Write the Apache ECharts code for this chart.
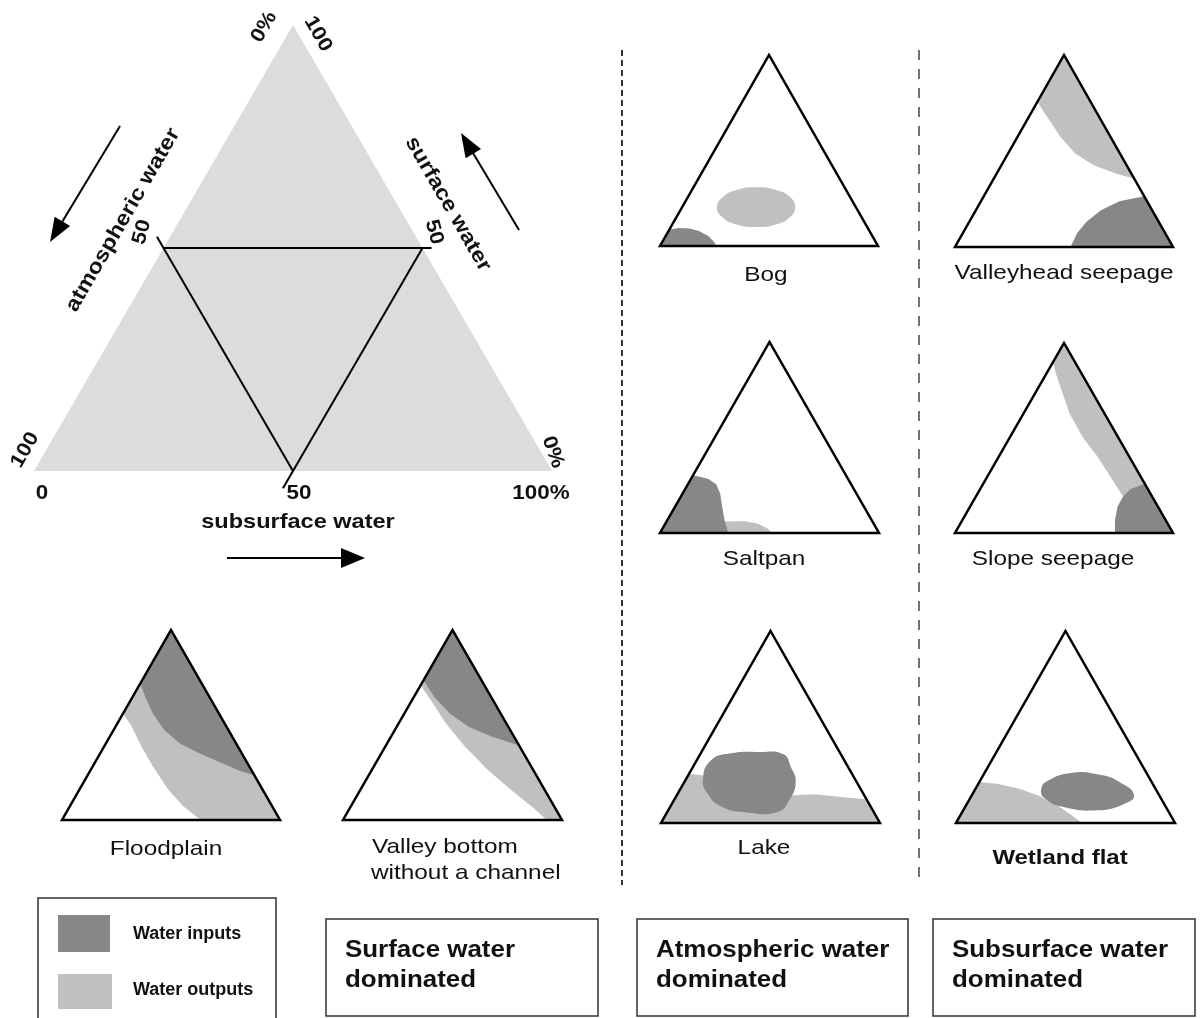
<!DOCTYPE html>
<html><head><meta charset="utf-8">
<script src="https://cdn.jsdelivr.net/npm/echarts@6/dist/echarts.min.js"></script>
<style>html,body{margin:0;padding:0;background:#fff}#c{width:1203px;height:1018px}</style>
</head><body><div id="c"></div>
<script>
// Ternary points are [subsurface %, surface %]; atmospheric % = 100 - both.
// Corners: bottom-left = 100% atmospheric, bottom-right = 100% subsurface, apex = 100% surface.
const triangleCorners = [[0,0],[100,0],[0,100]];
const midTriangle = [[0,50],[50,50],[50,0]];

const bogInputs = [[0,0],[0,8.7],[3.8,9.4],[9,9.2],[14,7.8],[19.5,5.2],[23.5,2.3],[26,0]];
const bogOutputs = [[52,20],[47,25.5],[38.5,29.3],[29,30.7],[20.6,29.3],[16,25.5],[16,20.3],[21,15.1],[29.6,11.3],[39,9.9],[47.5,11.3],[52,15.1]];

const valleyheadInputs = [[53,0],[52.4,7],[53.7,13],[57.4,19.1],[63.5,23.8],[73.6,26.4],[100,0]];
const valleyheadOutputs = [[0,100],[64.3,35.7],[59.6,36.9],[54.6,38.3],[42.3,42.6],[30.8,48.7],[19.6,57.4],[10.2,66.1],[5.5,70.4],[0,75.7]];

const saltpanInputs = [[0,0],[0,30.2],[7.7,28.4],[12.9,25.5],[17.2,20.6],[21.6,13.6],[26.2,6.6],[31.2,0]];
const saltpanOutputs = [[26,0],[26,6],[35.8,6.1],[42.3,4.9],[47.9,2.3],[51.5,0]];

const slopeInputs = [[74.1,25.9],[69,23.1],[67.5,19.2],[67.6,14],[69.9,7],[73.4,0],[100,0]];
const slopeOutputs = [[0,100],[74.1,25.9],[67.5,19.2],[57.9,28.3],[45.2,40.2],[33.1,50.7],[21.1,62.9],[9.9,76.9],[4.3,83.9],[0,90]];

const lakeInputs = [[6.5,32.7],[13.3,36.2],[26.4,37],[38,35.8],[44.7,29.2],[50.8,21.4],[52.6,11.8],[50.5,5.7],[37.1,5.4],[23.8,8.3],[13.6,15.3],[7.6,23.1]];
const lakeOutputs = [[0,0],[0,25.7],[6.2,24.9],[53,14.4],[62.8,15],[75.4,13.6],[87.6,12.4],[100,0]];

const wetlandInputs = [[30,17.9],[31.2,22.3],[39.5,26.1],[51.7,25.4],[63.9,21.4],[74.1,14.4],[71.4,9.7],[61.1,6.6],[45,8.3],[34.3,12.7]];
const wetlandOutputs = [[0,0],[0,21.4],[8.4,20.5],[19.9,17.9],[30.1,14.4],[40.9,9.7],[50.3,4.3],[57.6,0]];

const floodplainInputs = [[0,71.8],[0,100],[76.5,23.5],[69.2,25.6],[58.2,30],[45.1,35.2],[33.7,40.4],[23.2,47.4],[13.6,56.1],[5.8,64.8]];
const floodplainOutputs = [[0,56.1],[0,100],[100,0],[63.6,0],[52,7.3],[40.7,16],[27.6,28.2],[17.1,38.7],[7.5,49.1]];

const valleyBottomInputs = [[0,73.5],[0,100],[60.8,39.2],[45.9,43.9],[32.8,49.1],[20.7,56.1],[9.3,64.8]];
const valleyBottomOutputs = [[0,70.9],[0,100],[100,0],[93,0],[83.7,6.4],[68.5,16],[52.8,26.5],[36.3,38.7],[21.5,50.9],[8.5,63.1]];

const mainTickLabels = ['0', '50', '100%'];
const legendLabels = ['Water inputs', 'Water outputs'];
const groupLabels = [['Surface water', 'dominated'], ['Atmospheric water', 'dominated'], ['Subsurface water', 'dominated']];

// ---------- styles / layout ----------
const DARK = '#878787', LIGHT = '#c0c0c0', MAINFILL = '#dcdcdc';
const FONT = '"Liberation Sans", Arial, sans-serif';

function panel(frame, outputs, inputs, opts) {
  opts = opts || {};
  const items = [];
  if (outputs) items.push({ pts: outputs, fill: LIGHT, smooth: opts.smoothOut || 0 });
  if (inputs) items.push({ pts: inputs, fill: DARK, smooth: opts.smoothIn || 0 });
  items.push({ pts: triangleCorners, stroke: '#000', lw: 2.5 });
  return { frame, items };
}

const panels = [
  { frame: { left: 34, top: 25, width: 518, height: 446 },
    items: [
      { pts: triangleCorners, fill: MAINFILL },
      { seg: [midTriangle[0], midTriangle[1]], ext: [0, 9] },
      { seg: [midTriangle[0], midTriangle[2]], ext: [13, 0] },
      { seg: [midTriangle[1], midTriangle[2]], ext: [0, 20] }
    ] },
  panel({ left: 660, top: 55, width: 218, height: 191 }, bogOutputs, bogInputs, { smoothOut: 0.5 }),
  panel({ left: 955, top: 55, width: 218, height: 192 }, valleyheadOutputs, valleyheadInputs),
  panel({ left: 660, top: 342, width: 219, height: 191 }, saltpanOutputs, saltpanInputs),
  panel({ left: 955, top: 343, width: 218, height: 190 }, slopeOutputs, slopeInputs),
  panel({ left: 661, top: 631, width: 219, height: 192 }, lakeOutputs, lakeInputs, { smoothIn: 0.5 }),
  panel({ left: 956, top: 631, width: 219, height: 192 }, wetlandOutputs, wetlandInputs, { smoothIn: 0.5 }),
  panel({ left: 62, top: 630, width: 218, height: 190 }, floodplainOutputs, floodplainInputs),
  panel({ left: 343, top: 630, width: 219, height: 190 }, valleyBottomOutputs, valleyBottomInputs)
];

const toXY = p => [p[0] + p[1] / 2, p[1]];

const grid = [], xAxis = [], yAxis = [], series = [];
panels.forEach((pn, i) => {
  grid.push(Object.assign({ containLabel: false }, pn.frame));
  xAxis.push({ gridIndex: i, type: 'value', min: 0, max: 100, show: false });
  yAxis.push({ gridIndex: i, type: 'value', min: 0, max: 100, show: false });
  series.push({
    type: 'custom', xAxisIndex: i, yAxisIndex: i, silent: true, animation: false, clip: false,
    data: pn.items.map((_, k) => [k, 0]),
    renderItem: function (params, api) {
      const it = pn.items[params.dataIndex];
      if (it.seg) {
        const a = api.coord(toXY(it.seg[0])), b = api.coord(toXY(it.seg[1]));
        const dx = b[0] - a[0], dy = b[1] - a[1], L = Math.hypot(dx, dy);
        const ux = dx / L, uy = dy / L;
        return { type: 'line',
          shape: { x1: a[0] - ux * it.ext[0], y1: a[1] - uy * it.ext[0], x2: b[0] + ux * it.ext[1], y2: b[1] + uy * it.ext[1] },
          style: { stroke: '#000', lineWidth: 2 } };
      }
      const pts = it.pts.map(p => api.coord(toXY(p)));
      return { type: 'polygon', shape: { points: pts, smooth: it.smooth || 0 },
        style: it.stroke ? { fill: 'none', stroke: it.stroke, lineWidth: it.lw, lineJoin: 'miter' }
                         : { fill: it.fill, stroke: null } };
    }
  });
});

// ---------- annotations ----------
const DEG = Math.PI / 180;
function txt(text, x, y, o) {
  o = o || {};
  return { type: 'text', x, y, rotation: (o.rot || 0) * DEG, scaleX: o.sx || 1, silent: true,
    style: { text, x: 0, y: 0, fill: o.color || '#111',
      font: (o.weight || 'bold') + ' ' + (o.size || 20) + 'px ' + FONT,
      textAlign: o.align || 'center', textVerticalAlign: 'middle', verticalAlign: 'middle' } };
}
function arrow(x1, y1, x2, y2, hl, hw) {
  const dx = x2 - x1, dy = y2 - y1, L = Math.hypot(dx, dy), ux = dx / L, uy = dy / L;
  const bx = x2 - ux * hl, by = y2 - uy * hl;
  return [
    { type: 'line', silent: true, shape: { x1, y1, x2: bx, y2: by }, style: { stroke: '#000', lineWidth: 2 } },
    { type: 'polygon', silent: true, shape: { points: [[x2, y2], [bx - uy * hw, by + ux * hw], [bx + uy * hw, by - ux * hw]] }, style: { fill: '#000' } }
  ];
}

const S = 1.12, SL = 1.16;
const graphics = [
  { type: 'line', silent: true, shape: { x1: 622, y1: 50, x2: 622, y2: 885 }, style: { stroke: '#333', lineWidth: 2, lineDash: [6, 4] } },
  { type: 'line', silent: true, shape: { x1: 919, y1: 50, x2: 919, y2: 880 }, style: { stroke: '#444', lineWidth: 1.5, lineDash: [10, 9] } },
  // main ternary labels
  txt('0%', 264, 27, { rot: 60, sx: S }),
  txt('100', 318, 34, { rot: -60, sx: S }),
  txt('50', 142, 232, { rot: 75, sx: S }),
  txt('atmospheric water', 123, 220, { rot: 60, sx: S, size: 21 }),
  txt('surface water', 448, 204, { rot: -60, sx: S, size: 21 }),
  txt('50', 434, 232, { rot: -75, sx: S }),
  txt('100', 25, 450, { rot: 60, sx: S }),
  txt('0%', 553, 452, { rot: -70, sx: S }),
  txt(mainTickLabels[0], 42, 493, { sx: S }),
  txt(mainTickLabels[1], 299, 493, { sx: S }),
  txt(mainTickLabels[2], 541, 493, { sx: S }),
  txt('subsurface water', 298, 522, { sx: S, size: 21 }),
  ...arrow(120, 126, 50, 242, 24, 9),
  ...arrow(519, 230, 461, 133, 24, 9),
  ...arrow(227, 558, 365, 558, 24, 10),
  // panel names
  txt('Bog', 766, 275, { weight: 'normal', size: 21, sx: SL }),
  txt('Valleyhead seepage', 1064, 273, { weight: 'normal', size: 21, sx: SL }),
  txt('Saltpan', 764, 559, { weight: 'normal', size: 21, sx: SL }),
  txt('Slope seepage', 1053, 559, { weight: 'normal', size: 21, sx: SL }),
  txt('Lake', 764, 848, { weight: 'normal', size: 21, sx: SL }),
  txt('Wetland flat', 1060, 858, { weight: 'bold', size: 21, sx: 1.14 }),
  txt('Floodplain', 166, 849, { weight: 'normal', size: 21, sx: SL }),
  txt('Valley bottom', 372, 847, { weight: 'normal', size: 21, sx: SL, align: 'left' }),
  txt('without a channel', 371, 873, { weight: 'normal', size: 21, sx: SL, align: 'left' }),
  // legend
  { type: 'rect', silent: true, shape: { x: 38, y: 898, width: 238, height: 140 }, style: { fill: 'none', stroke: '#333', lineWidth: 1.5 } },
  { type: 'rect', silent: true, shape: { x: 58, y: 915, width: 52, height: 37 }, style: { fill: DARK } },
  { type: 'rect', silent: true, shape: { x: 58, y: 974, width: 54, height: 35 }, style: { fill: LIGHT } },
  txt(legendLabels[0], 133, 934, { size: 18, align: 'left' }),
  txt(legendLabels[1], 133, 990, { size: 18, align: 'left' })
];
const boxes = [[326, 272], [637, 271], [933, 262]];
boxes.forEach((b, i) => {
  graphics.push({ type: 'rect', silent: true, shape: { x: b[0], y: 919, width: b[1], height: 97 }, style: { fill: 'none', stroke: '#333', lineWidth: 1.5 } });
  graphics.push(txt(groupLabels[i][0], b[0] + 19, 950, { size: 24, sx: 1.08, align: 'left' }));
  graphics.push(txt(groupLabels[i][1], b[0] + 19, 980, { size: 24, sx: 1.08, align: 'left' }));
});

const chart = echarts.init(document.getElementById('c'), null, { renderer: 'canvas' });
chart.setOption({ animation: false, backgroundColor: '#fff', grid, xAxis, yAxis, series, graphic: { elements: graphics } });
</script></body></html>
